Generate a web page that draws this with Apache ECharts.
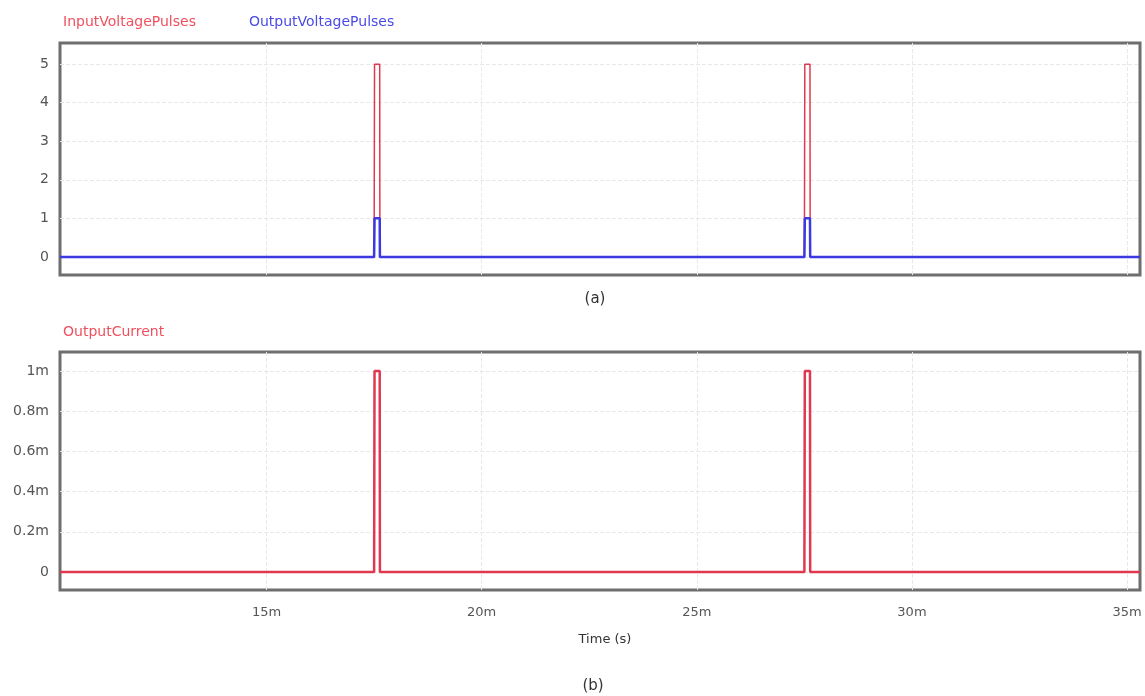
<!DOCTYPE html>
<html>
<head>
<meta charset="utf-8">
<script src="https://cdn.jsdelivr.net/npm/echarts@6/dist/echarts.min.js"></script>
<style>html,body{margin:0;padding:0;background:#fff}#c{width:1145px;height:696px}</style>
</head>
<body>
<div id="c"></div>
<script>
// time in milliseconds
const timeMs = [10.2, 17.5, 17.505, 17.51, 17.63, 17.635, 27.5, 27.505, 27.51, 27.63, 27.635, 35.3];
const inputVoltage = [0, 0, 2.5, 5, 5, 0, 0, 2.5, 5, 5, 0, 0];
const outputVoltage = [0, 0, 0.5, 1, 1, 0, 0, 0.5, 1, 1, 0, 0];
const outputCurrent = [0, 0, 0.0005, 0.001, 0.001, 0, 0, 0.0005, 0.001, 0.001, 0, 0];
const xTicks = [15, 20, 25, 30, 35];
const vTicks = [0, 1, 2, 3, 4, 5];
const iTicks = [0, 0.0002, 0.0004, 0.0006, 0.0008, 0.001];

const RED = '#e0384f', BLUE = '#3a3ae0';
const FONT = 'DejaVu Sans';
const pairs = (ys) => timeMs.map((t, i) => [t, ys[i]]);

const chart = echarts.init(document.getElementById('c'));
const gridCommon = {left: 60, right: 5, show: true, borderColor: '#6e6e6e', borderWidth: 3, backgroundColor: '#fff'};
const splitLine = {show: true, lineStyle: {color: '#e8e8e8', width: 1, type: 'dashed'}};
chart.setOption({
  animation: false,
  textStyle: {fontFamily: FONT},
  legend: [
    {left: 53, top: 10, icon: 'none', itemWidth: 0, itemGap: 48,
     textStyle: {fontSize: 14, fontFamily: FONT},
     data: [{name: 'InputVoltagePulses', textStyle: {color: '#f0505e'}},
            {name: 'OutputVoltagePulses', textStyle: {color: '#4a4ae8'}}]},
    {left: 53, top: 320, icon: 'none', itemWidth: 0,
     textStyle: {fontSize: 14, fontFamily: FONT},
     data: [{name: 'OutputCurrent', textStyle: {color: '#f0505e'}}]}
  ],
  title: [
    {text: '(a)', left: 590, top: 287, textAlign: 'center', textStyle: {fontSize: 15, fontWeight: 'normal', color: '#333', fontFamily: FONT}},
    {text: 'Time (s)', left: 600, top: 628, textAlign: 'center', textStyle: {fontSize: 13, fontWeight: 'normal', color: '#333', fontFamily: FONT}},
    {text: '(b)', left: 588, top: 674, textAlign: 'center', textStyle: {fontSize: 15, fontWeight: 'normal', color: '#333', fontFamily: FONT}}
  ],
  grid: [
    Object.assign({top: 43, height: 232}, gridCommon),
    Object.assign({top: 352, height: 238}, gridCommon)
  ],
  xAxis: [
    {gridIndex: 0, type: 'value', min: 10.2, max: 35.3,
     axisLine: {show: false}, axisTick: {show: false, customValues: xTicks},
     axisLabel: {show: false, customValues: xTicks}, splitLine: splitLine},
    {gridIndex: 1, type: 'value', min: 10.2, max: 35.3,
     axisLine: {show: false}, axisTick: {show: false, customValues: xTicks},
     axisLabel: {customValues: xTicks, margin: 16, color: '#555', fontSize: 13, fontFamily: FONT, formatter: v => v + 'm'},
     splitLine: splitLine}
  ],
  yAxis: [
    {gridIndex: 0, type: 'value', min: -0.47, max: 5.55,
     axisLine: {show: false}, axisTick: {show: false, customValues: vTicks},
     axisLabel: {customValues: vTicks, margin: 11, color: '#555', fontSize: 14, fontFamily: FONT}, splitLine: splitLine},
    {gridIndex: 1, type: 'value', min: -0.00009, max: 0.001095,
     axisLine: {show: false}, axisTick: {show: false, customValues: iTicks},
     axisLabel: {customValues: iTicks, margin: 11, color: '#555', fontSize: 14, fontFamily: FONT,
       formatter: v => v === 0 ? '0' : (+(v * 1000).toFixed(1)) + 'm'},
     splitLine: splitLine}
  ],
  series: [
    {name: 'InputVoltagePulses', type: 'line', xAxisIndex: 0, yAxisIndex: 0, data: pairs(inputVoltage),
     showSymbol: false, lineStyle: {color: RED, width: 1.5}, itemStyle: {color: RED}},
    {name: 'OutputVoltagePulses', type: 'line', xAxisIndex: 0, yAxisIndex: 0, data: pairs(outputVoltage),
     showSymbol: false, lineStyle: {color: BLUE, width: 2.5}, itemStyle: {color: BLUE}},
    {name: 'OutputCurrent', type: 'line', xAxisIndex: 1, yAxisIndex: 1, data: pairs(outputCurrent),
     showSymbol: false, lineStyle: {color: RED, width: 2.5}, itemStyle: {color: RED}}
  ]
});
</script>
</body>
</html>
